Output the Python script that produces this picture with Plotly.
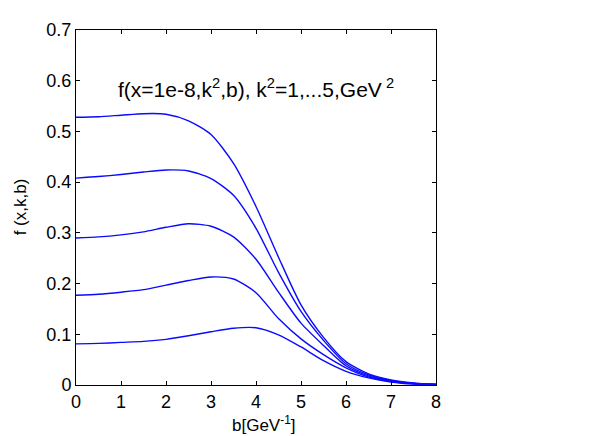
import plotly.graph_objects as go

b = [0, 0.5, 1, 1.5, 2, 2.5, 3, 3.5, 4, 4.5, 5, 5.5, 6, 6.5, 7, 7.5, 8]
f_k1 = [0.081, 0.082, 0.084, 0.086, 0.090, 0.097, 0.105, 0.112, 0.113, 0.099, 0.075, 0.048, 0.027, 0.014, 0.006, 0.002, 0.001]
f_k2 = [0.177, 0.179, 0.183, 0.188, 0.197, 0.206, 0.213, 0.209, 0.182, 0.131, 0.091, 0.060, 0.034, 0.016, 0.007, 0.003, 0.001]
f_k3 = [0.290, 0.292, 0.296, 0.302, 0.311, 0.318, 0.313, 0.292, 0.248, 0.183, 0.122, 0.078, 0.038, 0.018, 0.008, 0.003, 0.001]
f_k4 = [0.408, 0.411, 0.415, 0.420, 0.424, 0.422, 0.407, 0.374, 0.309, 0.222, 0.145, 0.088, 0.042, 0.020, 0.009, 0.003, 0.001]
f_k5 = [0.528, 0.529, 0.532, 0.535, 0.534, 0.521, 0.494, 0.437, 0.352, 0.252, 0.158, 0.094, 0.046, 0.022, 0.010, 0.004, 0.001]
series = [f_k1, f_k2, f_k3, f_k4, f_k5]

x_ticks = [0, 1, 2, 3, 4, 5, 6, 7, 8]
y_ticks = [0, 0.1, 0.2, 0.3, 0.4, 0.5, 0.6, 0.7]
y_tick_labels = ["0", "0.1", "0.2", "0.3", "0.4", "0.5", "0.6", "0.7"]

FONT = "Liberation Sans, Arial, Helvetica, sans-serif"

fig = go.Figure()
for ys in series:
    fig.add_trace(go.Scatter(x=b, y=ys, mode="lines",
                             line=dict(color="#0a0aff", width=1.4, shape="spline", smoothing=0.7),
                             showlegend=False, hoverinfo="skip"))

axis_common = dict(showline=True, linecolor="black", linewidth=1, mirror="ticks",
                   ticks="inside", ticklen=4, tickcolor="black", showgrid=False,
                   zeroline=False, tickfont=dict(family=FONT, size=18, color="black"))

fig.update_layout(
    width=604, height=436,
    margin=dict(l=68, r=176, t=18, b=59),
    paper_bgcolor="white", plot_bgcolor="white",
    xaxis=dict(range=[0, 8], tickvals=x_ticks, **axis_common),
    yaxis=dict(range=[0, 0.7], tickvals=y_ticks, ticktext=y_tick_labels, **axis_common),
    font=dict(family=FONT, color="black"),
)

fig.add_annotation(x=0.111, y=0.836, xref="paper", yref="paper", xanchor="left", yanchor="middle",
                   text="f(x=1e-8,k<sup>2</sup>,b), k<sup>2</sup>=1,...5,GeV<sup> 2</sup>",
                   showarrow=False, font=dict(family=FONT, size=21, color="black"))
fig.add_annotation(x=-0.155, y=0.501, xref="paper", yref="paper", xanchor="center", yanchor="middle",
                   text="f (x,k,b)", textangle=-90, showarrow=False,
                   font=dict(family=FONT, size=17, color="black"))
fig.add_annotation(x=0.522, y=-0.111, xref="paper", yref="paper", xanchor="center", yanchor="middle",
                   text="b[GeV<sup>-1</sup>]", showarrow=False,
                   font=dict(family=FONT, size=17, color="black"))

fig.write_html("out.html")
